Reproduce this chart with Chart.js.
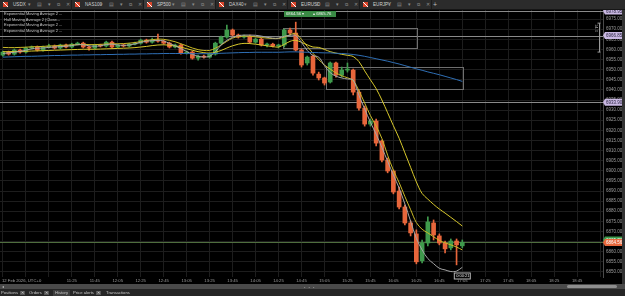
<!DOCTYPE html>
<html>
<head>
<meta charset="utf-8">
<script src="https://cdn.jsdelivr.net/npm/chart.js@4.4.1/dist/chart.umd.min.js"></script>
<style>
  html, body { margin: 0; padding: 0; width: 625px; height: 296px; overflow: hidden; background: #000; font-family: "Liberation Sans", Arial, sans-serif; }
  #tabs { position: absolute; left: 0; top: 0; width: 625px; height: 9px; background: #2b2b2b; border-bottom: 1px solid #161616; }
  .tab { position: absolute; top: 0; width: 71px; height: 9px; border-right: 1px solid #1b1b1b; color: #d0d0d0; font-size: 4.6px; line-height: 9px; white-space: nowrap; }
  .tab.active { background: #3c3c3c; }
  .tab .ico { position: absolute; left: 3px; top: 2px; width: 5px; height: 5px; background: linear-gradient(45deg, #d8452b 42%, #fff 42%, #fff 58%, #d8452b 58%); }
  .tab .name { position: absolute; left: 13px; }
  .tab .tools { position: absolute; left: 28px; color: #8c8c8c; letter-spacing: 2.4px; }
  .plus { position: absolute; left: 433px; top: 0; color: #bdbdbd; font-size: 7px; line-height: 9px; }
  #wrap { position: absolute; left: 0; top: 10px; width: 622px; height: 274px; }
  #edge { position: absolute; left: 622px; top: 10px; width: 3px; height: 274px; background: #333; }
  .ind { position: absolute; left: 4px; color: #c4c4c4; font-size: 4px; line-height: 5px; white-space: nowrap; }
  .trade { position: absolute; top: 11px; height: 6px; background: #3a8a45; color: #f2f2f2; font-size: 4.2px; line-height: 6px; white-space: nowrap; }
  #date { position: absolute; left: 2px; top: 277px; color: #a0a0a0; font-size: 4.2px; line-height: 7px; white-space: nowrap; }
  #scroll { position: absolute; left: 0; top: 284px; width: 625px; height: 5px; background: #4a4a4a; }
  #scroll .arr { position: absolute; left: 2px; top: 0; color: #bbb; font-size: 4px; line-height: 5px; }
  #scroll .thumb { position: absolute; left: 567px; top: 1px; width: 50px; height: 3px; border-radius: 2px; background: #8e8e8e; }
  #dots { position: absolute; left: 304px; top: 286px; color: #9a9a9a; font-size: 4px; line-height: 4px; letter-spacing: 1px; }
  #btabs { position: absolute; left: 0; top: 289px; width: 625px; height: 7px; background: #262626; }
  .bt { position: absolute; top: 1px; height: 6px; color: #c8c8c8; font-size: 4.2px; line-height: 6px; white-space: nowrap; }
  .bt.active { background: #3d3d3d; }
  .bt .x { display: inline-block; margin-left: 2px; padding: 0 1px; background: #555; color: #ddd; font-size: 3.6px; line-height: 4px; }
</style>
</head>
<body>
<div id="tabs">
  <div class="tab" style="left:0px"><i class="ico"></i><span class="name">USDX</span><span class="tools">▾ ▤ ▾ ⧉ ✕</span></div>
  <div class="tab" style="left:72px"><i class="ico"></i><span class="name">NAS100</span><span class="tools">▾ ▤ ▾ ⧉ ✕</span></div>
  <div class="tab active" style="left:144px"><i class="ico"></i><span class="name">SP500</span><span class="tools">▾ ▤ ▾ ⧉ ✕</span></div>
  <div class="tab" style="left:216px"><i class="ico"></i><span class="name">DAX40</span><span class="tools">▾ ▤ ▾ ⧉ ✕</span></div>
  <div class="tab" style="left:288px"><i class="ico"></i><span class="name">EURUSD</span><span class="tools">▾ ▤ ▾ ⧉ ✕</span></div>
  <div class="tab" style="left:360px"><i class="ico"></i><span class="name">EURJPY</span><span class="tools">▾ ▤ ▾ ⧉ ✕</span></div>
  <div class="plus">+</div>
</div>

<div id="wrap"><canvas id="chart" width="622" height="274"></canvas></div>
<div id="edge"></div>

<div class="ind" style="top:11px">Exponential Moving Average 2 ...</div>
<div class="ind" style="top:16.6px">Hull Moving Average 2 (Close...</div>
<div class="ind" style="top:22.2px">Exponential Moving Average 2 ...</div>
<div class="ind" style="top:27.8px">Exponential Moving Average 2 ...</div>

<div class="trade" style="left:284px;width:25px;padding-left:2px">6864.56 ▾</div>
<div class="trade" style="left:311px;width:23px;padding-left:2px">▴ 6865.76</div>

<div id="date">12 Feb 2026, UTC+0</div>
<div id="scroll"><span class="arr">◂</span><div class="thumb"></div></div>
<div id="dots">• • •</div>
<div id="btabs">
  <div class="bt" style="left:1px">Positions<span class="x">✕</span></div>
  <div class="bt" style="left:29px">Orders<span class="x">✕</span></div>
  <div class="bt active" style="left:53px;padding:0 2px">History</div>
  <div class="bt" style="left:73px">Price alerts<span class="x">✕</span></div>
  <div class="bt" style="left:106px">Transactions</div>
</div>

<script>
// 5-minute candles, 12 Feb 2026
const times = [
  "10:25","10:30","10:35","10:40","10:45","10:50","10:55",
  "11:00","11:05","11:10","11:15","11:20","11:25","11:30","11:35","11:40","11:45","11:50","11:55",
  "12:00","12:05","12:10","12:15","12:20","12:25","12:30","12:35","12:40","12:45","12:50","12:55",
  "13:00","13:05","13:10","13:15","13:20","13:25","13:30","13:35","13:40","13:45","13:50","13:55",
  "14:00","14:05","14:10","14:15","14:20","14:25","14:30","14:35","14:40","14:45","14:50","14:55",
  "15:00","15:05","15:10","15:15","15:20","15:25","15:30","15:35","15:40","15:45","15:50","15:55",
  "16:00","16:05","16:10","16:15","16:20","16:25","16:30","16:35","16:40","16:45","16:50","16:55",
  "17:00","17:05","17:10","17:15","17:20","17:25","17:30","17:35","17:40","17:45","17:50","17:55",
  "18:00","18:05","18:10","18:15","18:20","18:25","18:30","18:35","18:40","18:45","18:50","18:55",
  "19:00","19:05"
];

const opens = [
  6957.2, 6958.7, 6957.7, 6959.7, 6958.7, 6960.7, 6961.2, 6959.7, 6961.2, 6961.7,
  6960.7, 6962.2, 6961.2, 6962.6, 6963.1, 6961.2, 6960.7, 6962.2, 6961.7, 6963.6,
  6961.2, 6962.2, 6961.7, 6962.6, 6963.1, 6964.6, 6963.6, 6964.6, 6964.1, 6963.1,
  6961.2, 6962.2, 6958.2, 6958.7, 6955.7, 6956.7, 6956.2, 6957.7, 6963.1, 6966.1,
  6969.6, 6967.1, 6966.1, 6966.6, 6963.6, 6965.1, 6962.2, 6962.6, 6961.7, 6962.2,
  6969.6, 6968.1, 6959.7, 6953.3, 6956.7, 6947.8, 6945.9, 6943.9, 6953.3, 6947.3,
  6949.8, 6949.8, 6938.9, 6931.0, 6923.1, 6924.6, 6914.7, 6905.3, 6899.9, 6890.0,
  6882.1, 6874.2, 6868.8, 6855.5, 6864.3, 6874.2, 6867.8, 6864.3, 6861.9, 6865.3,
  6862.9
];
const highs = [
  6959.2, 6959.2, 6960.2, 6960.2, 6961.2, 6961.7, 6961.7, 6961.7, 6962.6, 6962.2,
  6962.6, 6962.6, 6963.1, 6963.6, 6963.6, 6961.7, 6962.6, 6962.6, 6964.1, 6964.1,
  6962.6, 6962.6, 6963.1, 6963.6, 6965.1, 6965.1, 6965.6, 6967.6, 6964.6, 6963.6,
  6962.6, 6962.6, 6959.2, 6959.2, 6957.2, 6957.2, 6958.2, 6963.6, 6966.6, 6972.0,
  6970.1, 6967.6, 6967.1, 6967.1, 6965.6, 6965.6, 6963.1, 6963.1, 6962.6, 6970.1,
  6970.6, 6973.5, 6960.2, 6956.7, 6957.2, 6948.8, 6946.3, 6953.8, 6953.8, 6951.3,
  6953.3, 6950.3, 6939.9, 6932.0, 6925.6, 6925.6, 6915.2, 6906.3, 6900.4, 6892.0,
  6883.1, 6875.2, 6870.8, 6865.8, 6877.2, 6875.7, 6868.8, 6865.3, 6866.3, 6866.3,
  6865.8
];
const lows = [
  6956.7, 6957.2, 6957.2, 6958.2, 6958.2, 6960.2, 6959.2, 6959.2, 6960.7, 6960.2,
  6960.2, 6960.7, 6960.7, 6962.2, 6960.7, 6959.7, 6960.2, 6961.2, 6961.2, 6960.7,
  6960.7, 6961.2, 6961.2, 6962.2, 6962.6, 6963.1, 6963.1, 6963.6, 6962.6, 6960.7,
  6960.7, 6957.7, 6957.7, 6955.2, 6954.7, 6955.7, 6955.7, 6957.2, 6962.6, 6965.6,
  6966.6, 6965.6, 6965.6, 6963.1, 6963.1, 6961.7, 6961.2, 6961.2, 6960.7, 6961.2,
  6967.6, 6959.2, 6951.3, 6952.3, 6947.3, 6944.9, 6942.4, 6943.4, 6946.3, 6946.3,
  6948.8, 6937.5, 6930.0, 6922.1, 6922.1, 6912.3, 6904.4, 6899.0, 6888.6, 6881.1,
  6873.2, 6867.8, 6854.0, 6854.5, 6862.9, 6865.8, 6863.4, 6859.4, 6860.9, 6853.5,
  6861.9
];
const closes = [
  6958.7, 6957.7, 6959.7, 6958.7, 6960.7, 6961.2, 6959.7, 6961.2, 6961.7, 6960.7,
  6962.2, 6961.2, 6962.6, 6963.1, 6961.2, 6960.7, 6962.2, 6961.7, 6963.6, 6961.2,
  6962.2, 6961.7, 6962.6, 6963.1, 6964.6, 6963.6, 6964.6, 6964.1, 6963.1, 6961.2,
  6962.2, 6958.2, 6958.7, 6955.7, 6956.7, 6956.2, 6957.7, 6963.1, 6966.1, 6969.6,
  6967.1, 6966.1, 6966.6, 6963.6, 6965.1, 6962.2, 6962.6, 6961.7, 6962.2, 6969.6,
  6968.1, 6959.7, 6952.3, 6956.2, 6948.3, 6945.9, 6943.4, 6953.3, 6947.3, 6949.8,
  6950.3, 6938.9, 6931.0, 6923.1, 6924.6, 6913.7, 6905.3, 6899.9, 6889.5, 6882.1,
  6874.2, 6869.3, 6855.0, 6864.3, 6874.7, 6868.3, 6864.3, 6861.4, 6865.3, 6863.4,
  6864.6
];

// indicator lines
const emaFast = [
  6961.0, 6960.9, 6960.9, 6961.0, 6961.1, 6961.3, 6961.4, 6961.5, 6961.7, 6961.8,
  6962.0, 6962.1, 6962.2, 6962.4, 6962.5, 6962.4, 6962.4, 6962.5, 6962.7, 6962.8,
  6962.8, 6962.9, 6963.1, 6963.4, 6963.9, 6964.4, 6964.8, 6965.1, 6965.0, 6964.5,
  6963.8, 6962.8, 6961.8, 6960.7, 6959.9, 6959.5, 6959.5, 6960.6, 6962.2, 6964.0,
  6965.6, 6966.3, 6966.6, 6966.5, 6966.2, 6965.9, 6965.6, 6965.4, 6965.4, 6966.1,
  6967.3, 6967.8, 6965.0, 6961.5, 6958.1, 6955.0, 6952.3, 6950.3, 6948.4, 6947.0,
  6946.0, 6944.6, 6939.6, 6933.5, 6927.3, 6922.1, 6916.0, 6907.7, 6900.3, 6894.2,
  6887.3, 6880.8, 6874.4, 6871.1, 6869.3, 6867.4, 6865.6, 6864.4, 6863.4, 6862.3,
  6860.9
];
const emaSlow = [
  6958.9, 6958.9, 6959.0, 6959.0, 6959.1, 6959.2, 6959.3, 6959.4, 6959.5, 6959.6,
  6959.7, 6959.8, 6959.9, 6960.0, 6960.1, 6960.1, 6960.1, 6960.2, 6960.3, 6960.4,
  6960.5, 6960.6, 6960.7, 6960.9, 6961.2, 6961.5, 6961.9, 6962.2, 6962.3, 6962.1,
  6961.7, 6961.1, 6960.4, 6959.6, 6958.9, 6958.4, 6958.2, 6958.6, 6959.5, 6960.7,
  6961.8, 6962.6, 6963.0, 6962.9, 6962.6, 6962.2, 6961.8, 6961.4, 6961.2, 6962.5,
  6964.0, 6964.5, 6963.5, 6962.3, 6961.2, 6961.0, 6960.0, 6958.9, 6958.2, 6957.6,
  6957.1, 6956.5, 6954.0, 6949.4, 6945.0, 6940.6, 6935.0, 6928.7, 6922.3, 6916.1,
  6908.9, 6901.7, 6894.5, 6888.8, 6886.0, 6883.4, 6881.1, 6879.1, 6877.0, 6874.9,
  6872.7
];
const hull = [
  6958.0, 6958.3, 6958.6, 6959.0, 6959.6, 6960.3, 6960.6, 6960.7, 6961.0, 6961.2,
  6961.4, 6961.6, 6961.9, 6962.3, 6962.3, 6961.8, 6961.6, 6961.8, 6962.4, 6962.6,
  6962.2, 6962.0, 6962.2, 6962.7, 6963.5, 6964.1, 6964.3, 6964.5, 6964.2, 6963.0,
  6961.8, 6960.4, 6959.0, 6957.6, 6956.6, 6956.3, 6956.6, 6958.8, 6962.2, 6964.5,
  6966.0, 6966.8, 6967.1, 6967.1, 6967.0, 6966.6, 6966.0, 6965.6, 6965.6, 6966.5,
  6967.0, 6966.8, 6963.5, 6959.5, 6957.0, 6956.2, 6952.0, 6948.5, 6946.8, 6945.9,
  6945.4, 6944.9, 6937.3, 6930.6, 6924.0, 6918.1, 6911.5, 6904.7, 6897.9, 6891.5,
  6883.6, 6875.1, 6866.6, 6860.9, 6856.6, 6854.1, 6851.8, 6851.0, 6850.2, 6850.4,
  6852.3
];
const emaLong = [
  6956.2, 6956.3, 6956.4, 6956.5, 6956.6, 6956.6, 6956.7, 6956.8, 6956.9, 6957.0,
  6957.0, 6957.1, 6957.2, 6957.2, 6957.3, 6957.3, 6957.4, 6957.4, 6957.5, 6957.5,
  6957.6, 6957.6, 6957.7, 6957.7, 6957.8, 6957.8, 6957.9, 6957.9, 6958.0, 6958.0,
  6958.0, 6958.0, 6958.0, 6957.9, 6957.9, 6957.9, 6957.9, 6958.0, 6958.1, 6958.2,
  6958.3, 6958.4, 6958.5, 6958.5, 6958.6, 6958.6, 6958.6, 6958.6, 6958.6, 6958.7,
  6958.8, 6958.8, 6958.7, 6958.6, 6958.5, 6958.4, 6958.3, 6958.3, 6958.1, 6958.0,
  6957.8, 6957.5, 6957.1, 6956.6, 6956.0, 6955.4, 6954.8, 6954.2, 6953.5, 6952.8,
  6952.0, 6951.2, 6950.4, 6949.7, 6948.9, 6948.2, 6947.5, 6946.7, 6945.9, 6945.1,
  6944.2
];

const priceTicks = [
  6850, 6855, 6860, 6865, 6870, 6875, 6880, 6885, 6890, 6895, 6900, 6905, 6910,
  6915, 6920, 6925, 6930, 6935, 6940, 6945, 6950, 6955, 6960, 6965, 6970, 6975
];

// drawings on the chart
const hLevels = [6978.95, 6966.85, 6933.90];
const bid = 6864.56;
const ask = 6865.76;
const zones = [
  { from: 48.8, to: 72.1, top: 6970.6, bottom: 6960.7 },
  { from: 56.3, to: 80.1, top: 6951.3, bottom: 6940.4 },
];
const ruler = { at: 103.8, top: 6973.0, bottom: 6958.7, text: "14.3" };

const UP = "#3f9a4c";
const DOWN = "#e7663b";
const FONT = '"Liberation Sans", Arial, sans-serif';
const candleColors = opens.map((o, i) => (closes[i] >= o ? UP : DOWN));

const overlay = {
  id: "overlay",
  beforeDatasetsDraw(chart) {
    const { ctx, chartArea: a, scales: { x, y } } = chart;
    ctx.save();
    ctx.beginPath();
    ctx.rect(a.left, a.top, a.right - a.left, a.bottom - a.top);
    ctx.clip();
    ctx.lineWidth = 1;

    ctx.strokeStyle = "#8a8a8a";
    hLevels.forEach((v) => {
      const py = Math.round(y.getPixelForValue(v)) + 0.5;
      ctx.beginPath();
      ctx.moveTo(a.left, py);
      ctx.lineTo(a.right, py);
      ctx.stroke();
    });

    // current price
    ctx.strokeStyle = "#4f6e3e";
    const pb = Math.round(y.getPixelForValue(bid)) + 0.5;
    ctx.beginPath();
    ctx.moveTo(a.left, pb);
    ctx.lineTo(a.right, pb);
    ctx.stroke();

    ctx.strokeStyle = "#6f6f6f";
    zones.forEach((z) => {
      const x1 = Math.round(x.getPixelForValue(z.from)) + 0.5;
      const x2 = Math.round(x.getPixelForValue(z.to)) + 0.5;
      const y1 = Math.round(y.getPixelForValue(z.top)) + 0.5;
      const y2 = Math.round(y.getPixelForValue(z.bottom)) + 0.5;
      ctx.strokeRect(x1, y1, x2 - x1, y2 - y1);
    });
    ctx.restore();
  },
  afterDraw(chart) {
    const { ctx, chartArea: a, scales: { x, y } } = chart;
    ctx.save();

    // ruler on the right
    const rx = Math.round(x.getPixelForValue(ruler.at)) + 0.5;
    const r1 = y.getPixelForValue(ruler.top);
    const r2 = y.getPixelForValue(ruler.bottom);
    ctx.strokeStyle = "#9a9a9a";
    ctx.lineWidth = 1;
    ctx.beginPath();
    ctx.moveTo(rx, r1); ctx.lineTo(rx, r2);
    ctx.moveTo(rx - 2, r1); ctx.lineTo(rx + 1, r1);
    ctx.moveTo(rx - 2, r2); ctx.lineTo(rx + 1, r2);
    ctx.stroke();
    ctx.translate(rx - 3, r1 + 1);
    ctx.rotate(Math.PI / 2);
    ctx.fillStyle = "#a8a8a8";
    ctx.font = "3.8px " + FONT;
    ctx.textBaseline = "middle";
    ctx.fillText(ruler.text, 0, 0);
    ctx.setTransform(1, 0, 0, 1, 0, 0);

    // price tags on the axis
    const tag = (v, fill, color) => {
      const py = y.getPixelForValue(v);
      const x0 = a.right;
      ctx.fillStyle = fill;
      ctx.beginPath();
      ctx.moveTo(x0, py);
      ctx.lineTo(x0 + 2, py - 3.5);
      ctx.lineTo(x0 + 19, py - 3.5);
      ctx.lineTo(x0 + 19, py + 3.5);
      ctx.lineTo(x0 + 2, py + 3.5);
      ctx.closePath();
      ctx.fill();
      ctx.fillStyle = color;
      ctx.font = "4.5px " + FONT;
      ctx.textAlign = "left";
      ctx.textBaseline = "middle";
      ctx.fillText(v.toFixed(2), x0 + 3, py + 0.3);
    };
    hLevels.forEach((v) => tag(v, "#c9b8e2", "#2a2440"));
    tag(ask, "#3e9a4a", "#ffffff");
    tag(bid, "#e8683c", "#ffffff");

    // bar countdown
    const cx = x.getPixelForValue(opens.length - 1);
    const by = a.bottom - 4.5;
    ctx.fillStyle = "#050505";
    ctx.fillRect(cx - 8.5, by, 17, 7);
    ctx.strokeStyle = "#b5b5b5";
    ctx.strokeRect(cx - 8, by + 0.5, 16, 6);
    ctx.fillStyle = "#e0e0e0";
    ctx.font = "4px " + FONT;
    ctx.textAlign = "center";
    ctx.textBaseline = "middle";
    ctx.fillText("0:00:21", cx + 0.5, by + 3.6);
    ctx.restore();
  },
};

const lineSet = (data, color) => ({
  type: "line",
  data: data,
  borderColor: color,
  borderWidth: 1,
  pointRadius: 0,
  tension: 0.35,
  order: 1,
});

new Chart(document.getElementById("chart"), {
  type: "bar",
  data: {
    labels: times,
    datasets: [
      lineSet(emaLong, "#2f6fb5"),
      lineSet(hull, "#a6a6a6"),
      lineSet(emaSlow, "#d8c92c"),
      lineSet(emaFast, "#c9b927"),
      {
        data: lows.map((l, i) => [l, highs[i]]),
        backgroundColor: candleColors,
        barThickness: 1,
        grouped: false,
        order: 3,
      },
      {
        data: opens.map((o, i) => [o, closes[i]]),
        backgroundColor: candleColors,
        barThickness: 4,
        minBarLength: 1,
        grouped: false,
        order: 2,
      },
    ],
  },
  options: {
    responsive: false,
    animation: false,
    events: [],
    layout: { padding: 0 },
    plugins: { legend: { display: false }, tooltip: { enabled: false } },
    scales: {
      x: {
        offset: true,
        afterFit: (s) => { s.height = 7; s.paddingLeft = 0; s.paddingRight = 0; },
        grid: {
          offset: false,
          drawTicks: false,
          color: (c) => (c.index % 4 === 0 ? "#1d1d1d" : "rgba(0,0,0,0)"),
        },
        border: { display: false },
        ticks: {
          autoSkip: false,
          maxRotation: 0,
          padding: 1.5,
          color: "#9c9c9c",
          font: { size: 4.2, family: FONT },
          callback: (v, i) => (i >= 12 && i <= 100 && i % 4 === 0 ? times[i] : ""),
        },
      },
      y: {
        position: "right",
        min: 6847.5,
        max: 6979.5,
        afterBuildTicks: (s) => { s.ticks = priceTicks.map((v) => ({ value: v })); },
        afterFit: (s) => { s.width = 19; s.paddingTop = 0; s.paddingBottom = 0; },
        grid: { color: "#1d1d1d", drawTicks: false },
        border: { color: "#4a4a4a" },
        ticks: {
          padding: 3,
          color: "#9c9c9c",
          font: { size: 4.5, family: FONT },
          callback: (v) => Number(v).toFixed(2),
        },
      },
    },
  },
  plugins: [overlay],
});
</script>
</body>
</html>
